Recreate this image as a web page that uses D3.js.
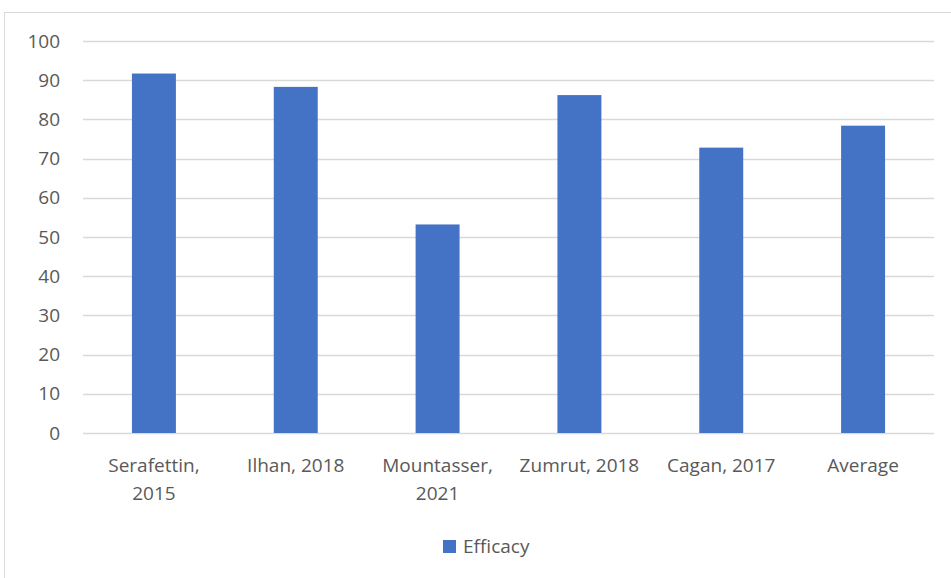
<!DOCTYPE html>
<html>
<head>
<meta charset="utf-8">
<script src="https://cdn.jsdelivr.net/npm/d3@7"></script>
<style>
  body { margin: 0; background: #fff; }
  text { font-family: "Open Sans", sans-serif; fill: #595959; }
</style>
</head>
<body>
<div id="chart-area"></div>
<script>
// values
var categories = ["Serafettin, 2015", "Ilhan, 2018", "Mountasser, 2021", "Zumrut, 2018", "Cagan, 2017", "Average"];
var tickLines = [["Serafettin,", "2015"], ["Ilhan, 2018"], ["Mountasser,", "2021"], ["Zumrut, 2018"], ["Cagan, 2017"], ["Average"]];
var efficacy = [91.7, 88.3, 53.2, 86.2, 72.8, 78.4];
var yTicks = [0, 10, 20, 30, 40, 50, 60, 70, 80, 90, 100];
var seriesName = "Efficacy";

var width = 951, height = 578;
var plotLeft = 83, plotRight = 934, plotTop = 41, plotBottom = 433;

var svg = d3.select("#chart-area")
  .append("svg")
  .attr("width", width)
  .attr("height", height);

// chart frame
svg.append("rect")
  .attr("x", 4.5).attr("y", 12.5)
  .attr("width", 960).attr("height", 600)
  .attr("fill", "none")
  .attr("stroke", "#d9d9d9");

var x = d3.scaleBand()
  .domain(categories)
  .range([plotLeft, plotRight])
  .paddingInner(0.69)
  .paddingOuter(0.345);

var y = d3.scaleLinear()
  .domain([0, 100])
  .range([plotBottom, plotTop]);

// gridlines
svg.append("g")
  .selectAll("line")
  .data(yTicks)
  .enter()
  .append("line")
  .attr("x1", plotLeft).attr("x2", plotRight)
  .attr("y1", d => Math.round(y(d)) + 0.5)
  .attr("y2", d => Math.round(y(d)) + 0.5)
  .attr("stroke", "#d9d9d9")
  .attr("stroke-width", 1.3);

// y axis labels
var yAxis = svg.append("g")
  .attr("transform", "translate(" + (plotLeft - 2) + ",0)")
  .call(d3.axisLeft(y).tickValues(yTicks).tickSize(0).tickPadding(21));
yAxis.select(".domain").remove();
yAxis.selectAll("text")
  .style("font-size", "19px")
  .attr("fill", "#595959");

// bars
svg.append("g")
  .selectAll("rect")
  .data(efficacy)
  .enter()
  .append("rect")
  .attr("x", (d, i) => x(categories[i]))
  .attr("y", d => y(d))
  .attr("width", x.bandwidth())
  .attr("height", d => y(0) - y(d))
  .attr("fill", "#4472c4");

// category labels
var xAxis = svg.append("g")
  .attr("transform", "translate(0," + plotBottom + ")")
  .call(d3.axisBottom(x).tickSize(0).tickFormat(""));
xAxis.select(".domain").remove();
xAxis.selectAll(".tick")
  .each(function (d, i) {
    var t = d3.select(this).append("text")
      .attr("text-anchor", "middle")
      .style("font-size", "19px");
    tickLines[i].forEach(function (line, j) {
      t.append("tspan")
        .attr("x", 0)
        .attr("y", 39 + j * 28)
        .text(line);
    });
  });

// legend
var legend = svg.append("g").attr("transform", "translate(443,540)");
legend.append("rect")
  .attr("width", 13).attr("height", 13)
  .attr("fill", "#4472c4");
legend.append("text")
  .attr("x", 20).attr("y", 13)
  .style("font-size", "19px")
  .text(seriesName);
</script>
</body>
</html>
